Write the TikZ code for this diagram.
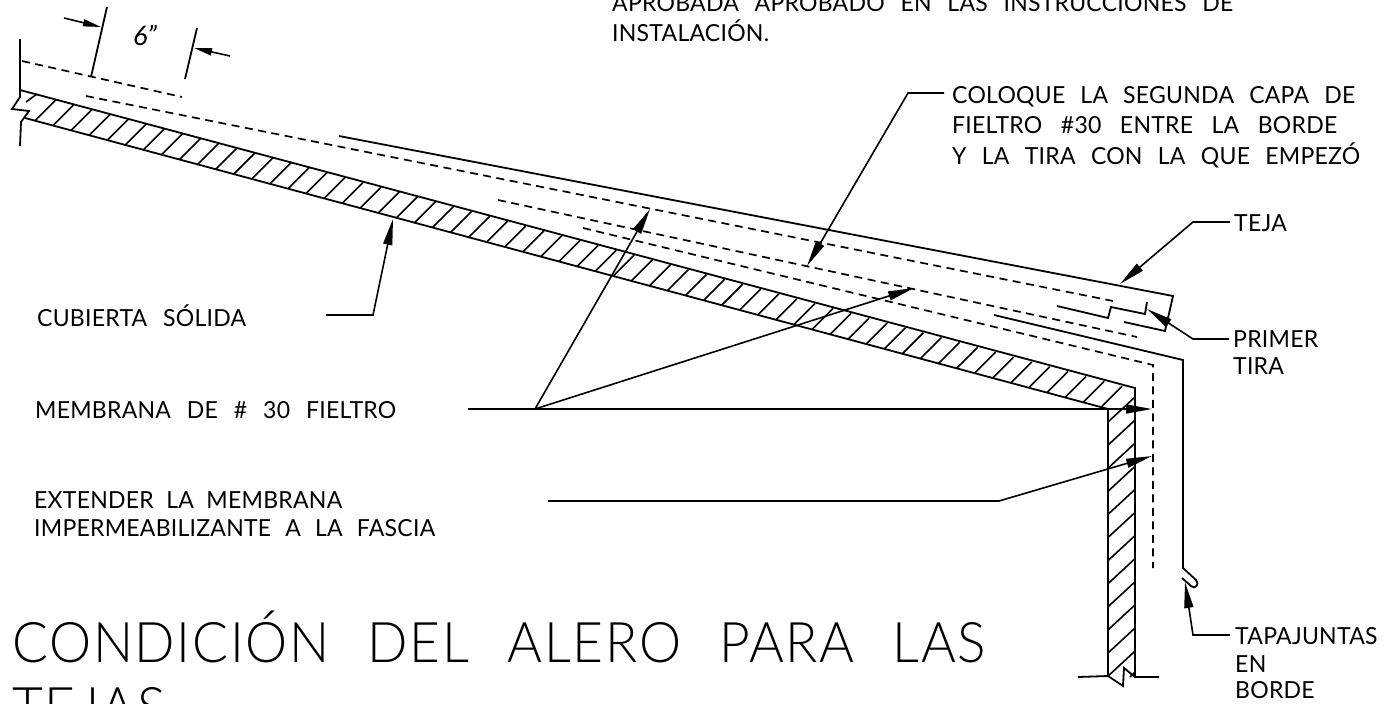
\documentclass[tikz,border=0pt]{standalone}
\usepackage{fontspec}
\usetikzlibrary{arrows.meta}
\setmainfont{Lato}
\newfontfamily\titlefont[LetterSpace=3,FakeStretch=0.95]{Lato Light}
\newfontfamily\smallfont[FakeStretch=0.98,LetterSpace=1]{Lato}
\newcommand\fit[2]{\hbox to #1{\spaceskip=1pt plus 1fil\xspaceskip=\spaceskip #2}}
\tikzset{
  x=1pt,y=-1pt,
  ln/.style={line width=1.8pt,line cap=butt,line join=miter},
  hatchline/.style={line width=1.6pt},
  dsh/.style={line width=1.7pt,dash pattern=on 8pt off 5.5pt},
  lead/.style={line width=1.6pt,-{Stealth[length=26pt,width=9pt,inset=0pt]}},
  dimarrow/.style={line width=1.6pt,-{Stealth[length=18pt,width=7pt,inset=0pt]}},
  lbl/.style={anchor=base west,inner sep=0pt,font=\smallfont\fontsize{23.5}{23.5}\selectfont},
  ttl/.style={anchor=base west,inner sep=0pt,font=\titlefont\fontsize{56}{56}\selectfont},
}
\begin{document}
\begin{tikzpicture}
\useasboundingbox (0,0) rectangle (1392,704);
\clip (0,0) rectangle (1392,704);
% text
\node[lbl] (ta1) at (612,12) {\fit{621pt}{APROBADA APROBADO EN LAS INSTRUCCIONES DE}};
\node[lbl] (ta2) at (612,41) {INSTALACIÓN.};
\node[lbl] (tc1) at (952,103) {\fit{403pt}{COLOQUE LA SEGUNDA CAPA DE}};
\node[lbl] (tc2) at (952,133) {\fit{385pt}{FIELTRO \#30 ENTRE LA BORDE}};
\node[lbl] (tc3) at (952,164) {\fit{408pt}{Y LA TIRA CON LA QUE EMPEZÓ}};
\node[lbl] (tteja) at (1234,231) {TEJA};
\node[lbl] (tpr1) at (1233,347) {PRIMER};
\node[lbl] (tpr2) at (1233,374) {TIRA};
\node[lbl] (tcub) at (37,326) {\fit{209pt}{CUBIERTA SÓLIDA}};
\node[lbl] (tmem) at (35,418) {\fit{361pt}{MEMBRANA DE \# 30 FIELTRO}};
\node[lbl] (tex1) at (34,508) {\fit{308pt}{EXTENDER LA MEMBRANA}};
\node[lbl] (tex2) at (34,536) {\fit{401pt}{IMPERMEABILIZANTE A LA FASCIA}};
\node[lbl] (ttp1) at (1235,644) {TAPAJUNTAS};
\node[lbl] (ttp2) at (1235,672) {EN};
\node[lbl] (ttp3) at (1235,698) {BORDE};
\node[ttl] (tt1) at (12,662) {\fit{974pt}{CONDICIÓN DEL ALERO PARA LAS}};
\node[ttl] (tt2) at (12,727) {TEJAS};
\node[anchor=base west,inner sep=0pt,font=\fontsize{27}{27}\selectfont\itshape] (tsix) at (133,45) {6”};
% deck
\draw[ln] (20,90) -- (1135,388) -- (1135,677);
\draw[ln] (25,118) -- (1108,409) -- (1108,676);
\draw[ln] (20,39) -- (20,97) -- (12,109) -- (29,111) -- (21,122) -- (20,146);
\foreach \i in {0,...,59}{
  \pgfmathsetmacro\xb{35+18.07*\i}
  \pgfmathsetmacro\yb{118+0.2687*(\xb-25)}
  \draw[hatchline] (\xb,\yb) -- (\xb+21,\yb-21);
}
\draw[hatchline] (26,102) -- (37,94);
\foreach \i in {0,...,11}{
  \pgfmathsetmacro\yr{397+23.1*\i}
  \draw[hatchline] (1135,\yr) -- (1108,\yr+25);
}
\draw[hatchline] (1135,672) -- (1130,677);
\draw[ln] (1078,677) -- (1108,676) -- (1123,686) -- (1124,668) -- (1135,677) -- (1159,677);
% dashed membranes
\draw[dsh] (22,61) -- (182,97);
\draw[dsh] (86,96) -- (1113,301);
\draw[dsh] (498,200) -- (1137,337);
\draw[dsh] (583,228) -- (1153,365) -- (1153,568);
% shingle
\draw[ln] (339,136) -- (1173,296) -- (1165,331) -- (1124,322);
\draw[ln] (1057,306) -- (1108,318) -- (1111,307) -- (1145,314) -- (1147,302);
% flashing
\draw[ln] (994,315) -- (1183,360) -- (1183,568) -- (1196,580) .. controls (1200,584) and (1195,590) .. (1191,586) -- (1182,578);
% dims
\coordinate (da) at (64,18); \coordinate (db) at (101,27);
\coordinate (dc) at (230,56); \coordinate (dd) at (194,48);
\draw[ln] (107,7) -- (91,77);
\draw[ln] (197,28) -- (185,79);
\draw[dimarrow] (da) -- (db);
\draw[dimarrow] (dc) -- (dd);
% leaders
\coordinate (s1) at (1230,222); \coordinate (e1) at (1193,222); \coordinate (p1) at (1120,284);
\draw[lead] (s1) -- (e1) -- (p1);
\coordinate (s2) at (1229,339); \coordinate (e2) at (1193,339); \coordinate (p2) at (1147,309);
\draw[lead] (s2) -- (e2) -- (p2);
\coordinate (s3) at (1230,635); \coordinate (e3) at (1193,635); \coordinate (p3) at (1185,582);
\draw[lead] (s3) -- (e3) -- (p3);
\coordinate (s4) at (944,93); \coordinate (e4) at (908,93); \coordinate (p4) at (807,266);
\draw[lead] (s4) -- (e4) -- (p4);
\coordinate (s5) at (326,315); \coordinate (e5) at (373,315); \coordinate (p5) at (393,219);
\draw[lead] (s5) -- (e5) -- (p5);
\coordinate (m0) at (468,409); \coordinate (m1) at (535,409);
\coordinate (p6) at (1152,409); \coordinate (p7) at (650,209); \coordinate (p8) at (914,288);
\draw[lead] (m0) -- (p6);
\draw[lead] (m1) -- (p7);
\draw[lead] (m1) -- (p8);
\coordinate (x0) at (548,501); \coordinate (x1) at (999,501); \coordinate (p9) at (1152,456);
\draw[lead] (x0) -- (x1) -- (p9);
\end{tikzpicture}
\end{document}
